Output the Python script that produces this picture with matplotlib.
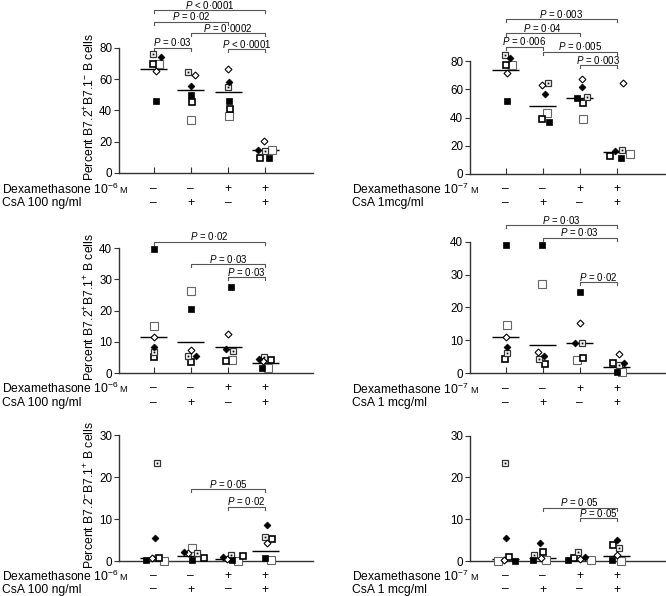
import matplotlib
matplotlib.use('Agg')
import matplotlib.pyplot as plt
import matplotlib.transforms as mtransforms
import numpy as np

plt.rcParams['font.family'] = ['Liberation Sans', 'DejaVu Sans']
plt.rcParams['mathtext.fontset'] = 'custom'
plt.rcParams['mathtext.rm'] = 'Liberation Sans'
plt.rcParams['mathtext.it'] = 'Liberation Sans:italic'
plt.rcParams['mathtext.default'] = 'regular'

W, H = 666, 596

# ---------------- data ----------------
dex_signs = ['–', '–', '+', '+']
csa_signs = ['–', '+', '–', '+']

# Panel A: B7.2+B7.1- , Dex 1e-6 M, CsA 100 ng/ml
a_fsq = [46, 50, 46, 9.5]
a_osq = [70, 34, 36.5, 15]
a_ssq = [70, 45.5, 41, 9.5]
a_dsq = [76, 64.5, 55, 14]
a_odia = [65, 62.5, 66.5, 20.7]
a_fdia = [74.5, 55.5, 58.5, 15]
a_mean = [66.8, 53.1, 51.8, 14.7]
a_p = [(0, 3, 104.0, '< 0·0001'), (0, 2, 96.8, '= 0·02'),
       (1, 3, 89.4, '= 0·0002'), (0, 1, 80.3, '= 0·03'),
       (2, 3, 79.4, '< 0·0001')]

# Panel B: B7.2+B7.1- , Dex 1e-7 M, CsA 1 mcg/ml
b_fsq = [51.7, 37, 54, 11.1]
b_osq = [77.2, 43, 39, 13.9]
b_ssq = [77.2, 38.9, 50.5, 12.7]
b_dsq = [84.2, 64.2, 54.3, 17]
b_odia = [71.3, 63, 67, 64.6]
b_fdia = [81.9, 56.4, 61.4, 16.3]
b_mean = [73.6, 48.1, 54, 15.8]
b_p = [(0, 3, 109.5, '= 0·003'), (0, 2, 99.6, '= 0·04'),
       (0, 1, 90.1, '= 0·006'), (1, 3, 86.6, '= 0·005'),
       (2, 3, 77.2, '= 0·003')]

# Panel C: B7.2+B7.1+
c_fsq = [39.7, 20.5, 27.6, 1.7]
c_osq = [15, 26.3, 4.2, 1.7]
c_ssq = [5, 3.6, 3.9, 4.2]
c_dsq = [6.6, 5.6, 7, 5.2]
c_odia = [11.4, 7.4, 12.4, 3.8]
c_fdia = [8.4, 5.6, 7.8, 4.5]
c_mean = [11.6, 9.8, 8.3, 3.1]
c_p = [(0, 3, 42.0, '= 0·02'), (1, 3, 34.8, '= 0·03'),
       (2, 3, 30.6, '= 0·03')]

# Panel D
d_fsq = [39.1, 39.1, 24.8, 0.5]
d_osq = [14.7, 27.2, 4.1, 0.3]
d_ssq = [4.3, 2.8, 4.7, 3.2]
d_dsq = [6.2, 4.2, 9.1, 2.4]
d_odia = [11.1, 6.5, 15.2, 5.8]
d_fdia = [8.0, 5.3, 9.1, 3.2]
d_mean = [10.9, 8.75, 9.25, 2.0]
d_p = [(0, 3, 45.1, '= 0·03'), (1, 3, 41.2, '= 0·03'),
       (2, 3, 27.7, '= 0·02')]

# Panel E: B7.2-B7.1+
e_fsq = [0.2, 0.2, 0.2, 0.8]
e_osq = [0, 3.0, 0, 0.2]
e_ssq = [0.8, 0.8, 1.2, 5.2]
e_dsq = [23.3, 1.8, 1.4, 5.6]
e_odia = [0.6, 1.8, 0.5, 4.2]
e_fdia = [5.4, 2.2, 0.9, 8.6]
e_mean = [0.8, 1.3, 0.4, 2.5]
e_p = [(1, 3, 17.1, '= 0·05'), (2, 3, 12.9, '= 0·02')]

# Panel F
f_fsq = [0, 0.2, 0.2, 0.2]
f_osq = [0, 0.2, 0.2, 0]
f_ssq = [0.9, 2.2, 0.8, 3.8]
f_dsq = [23.5, 1.4, 2.2, 3.0]
f_odia = [0.2, 0.6, 0.4, 1.4]
f_fdia = [5.6, 4.2, 0.9, 5.0]
f_mean = [0.4, 0.6, 0.5, 1.3]
f_p = [(1, 3, 12.8, '= 0·05'), (2, 3, 10.2, '= 0·05')]

# ---------------- layout / style (pixels) ----------------
# horizontal jitter of each marker type, pixels, per group
jit = {
    'A': dict(fsq=[2, 0, 1, 4], osq=[5, 0, 1, 7], ssq=[-1, 1, 2, -5], dsq=[-1, -3, 0, 0], odia=[2, 4, 0, -1], fdia=[7, 0, 1, -7]),
    'B': dict(fsq=[1, 6.5, -3, 4], osq=[6, 4, 3, 13], ssq=[0, -1, 3, -7], dsq=[-1, 5, 7, 5], odia=[1, -1, 2, 6], fdia=[4, 2, 2, -2]),
    'C': dict(fsq=[0, 0, 3, -3], osq=[0, 0, 4, 3], ssq=[0, 0, -2, 6], dsq=[0, -3, 5, -1], odia=[0, 0, 0, -2], fdia=[0, 5, -2, -6]),
    'D': dict(fsq=[0, -1, 0, 0], osq=[1, -1, -3, 5], ssq=[-1, 2, 3, -4], dsq=[1, -4, 2, 2], odia=[0, -5, 0, 2], fdia=[1, 1, -5, 7]),
    'E': dict(fsq=[-8, 1, 4, 0], osq=[10, 1, 10, 6], ssq=[5, 13, 15, 7], dsq=[3, 6, 3, 0], odia=[-2, -3, -1, 2], fdia=[1, -7, -5, 2]),
    'F': dict(fsq=[9, -10, -12, -5], osq=[-8, 3, 11, 4], ssq=[3, 0, -6, -4], dsq=[-1, -9, -2, 2], odia=[-2, -2, 0, 0], fdia=[0, -3, 5, 0]),
}

panels = [
    ('A', dict(fsq=a_fsq, osq=a_osq, ssq=a_ssq, dsq=a_dsq, odia=a_odia, fdia=a_fdia), a_mean, a_p,
     119, 313, 173, 48, 80, [0, 20, 40, 60, 80], 153.5, 37.3,
     'Percent B7.2$^{+}$B7.1$^{-}$ B cells', '10$^{-6}$', 'CsA 100 ng/ml', (189, 203.5)),
    ('B', dict(fsq=b_fsq, osq=b_osq, ssq=b_ssq, dsq=b_dsq, odia=b_odia, fdia=b_fdia), b_mean, b_p,
     470, 666, 174, 61, 80, [0, 20, 40, 60, 80], 505.5, 37.1,
     None, '10$^{-7}$', 'CsA 1mcg/ml', (189, 203.5)),
    ('C', dict(fsq=c_fsq, osq=c_osq, ssq=c_ssq, dsq=c_dsq, odia=c_odia, fdia=c_fdia), c_mean, c_p,
     119, 313, 373, 248, 40, [0, 10, 20, 30, 40], 153.5, 37.3,
     'Percent B7.2$^{+}$B7.1$^{+}$ B cells', '10$^{-6}$', 'CsA 100 ng/ml', (388.5, 403.3)),
    ('D', dict(fsq=d_fsq, osq=d_osq, ssq=d_ssq, dsq=d_dsq, odia=d_odia, fdia=d_fdia), d_mean, d_p,
     470, 666, 373.3, 241.7, 40, [0, 10, 20, 30, 40], 505.5, 37.1,
     None, '10$^{-7}$', 'CsA 1 mcg/ml', (389, 403.3)),
    ('E', dict(fsq=e_fsq, osq=e_osq, ssq=e_ssq, dsq=e_dsq, odia=e_odia, fdia=e_fdia), e_mean, e_p,
     119, 313, 561, 435, 30, [0, 10, 20, 30], 153.5, 37.3,
     'Percent B7.2$^{-}$B7.1$^{+}$ B cells', '10$^{-6}$', 'CsA 100 ng/ml', (576, 589.5)),
    ('F', dict(fsq=f_fsq, osq=f_osq, ssq=f_ssq, dsq=f_dsq, odia=f_odia, fdia=f_fdia), f_mean, f_p,
     470, 666, 561, 435.7, 30, [0, 10, 20, 30], 505.5, 37.1,
     None, '10$^{-7}$', 'CsA 1 mcg/ml', (576, 589.5)),
]

styles = {
    'osq': dict(marker='s', ms=5.4, mfc='white', mec='#666666', mew=0.8),
    'fsq': dict(marker='s', ms=5.0, mfc='black', mec='black', mew=0.5),
    'ssq': dict(marker='s', ms=3.8, mfc='white', mec='black', mew=1.2),
    'dsq': dict(marker='s', ms=4.8, mfc='white', mec='#333333', mew=0.9),
    'odia': dict(marker='D', ms=3.5, mfc='white', mec='black', mew=0.8),
    'fdia': dict(marker='D', ms=3.5, mfc='black', mec='black', mew=0.5),
}

fig = plt.figure(figsize=(W / 100, H / 100), dpi=100)
fig.patch.set_facecolor('white')

ROW_FS = 8.7
for (key, data, means, pvals, left, right, y0px, ytpx, ytv, yticks, t0, sp,
     ylabel, dexlab, csalab, rowy) in panels:
    ax = fig.add_axes([left / W, 1 - y0px / H, (right - left) / W, (y0px - ytpx) / H])
    ax.set_xlim((left - t0) / sp, (right - t0) / sp)
    ax.set_ylim(0, ytv)
    for s in ['top', 'right']:
        ax.spines[s].set_visible(False)
    for s in ['left', 'bottom']:
        ax.spines[s].set_color('#333333')
        ax.spines[s].set_linewidth(1.0)
    ax.set_yticks(yticks)
    ax.set_yticklabels([str(t) for t in yticks], fontsize=8.4)
    ax.tick_params(axis='y', direction='out', length=3.5, width=0.8, pad=1.5, colors='#333333',
                   labelcolor='black')
    groups = np.arange(4)
    ax.set_xticks(groups)
    ax.set_xticklabels([])
    ax.tick_params(axis='x', direction='in', length=4, width=0.8, colors='#333333')
    ax.patch.set_alpha(0)

    # markers
    for mk in ['osq', 'ssq', 'dsq', 'fsq', 'odia', 'fdia']:
        xs = groups + np.array(jit[key][mk]) / sp
        ax.plot(xs, data[mk], ls='none', clip_on=False, zorder=4, **styles[mk])
        if mk == 'dsq':
            ax.plot(xs, data[mk], ls='none', marker='s', ms=1.3, mfc='black', mec='black',
                    mew=0, clip_on=False, zorder=5)
    # mean lines
    ax.hlines(means, groups - 0.36, groups + 0.36, colors='black', lw=1.0, zorder=3, clip_on=False)

    # significance brackets
    tick_h = 3 * ytv / (y0px - ytpx)  # 3 px in data units
    txt_off = mtransforms.offset_copy(ax.transData, fig=fig, x=0, y=1.0, units='points')
    for (i, j, yv, lab) in pvals:
        ax.plot([i, i, j, j], [yv - tick_h, yv, yv, yv - tick_h], color='#555555', lw=0.8,
                clip_on=False)
        ax.text((i + j) / 2, yv, r'$\mathit{P}$ ' + lab, ha='center', va='baseline', fontsize=7.0,
                transform=txt_off, clip_on=False)

    if ylabel:
        fig.text(90 / W, 1 - ((ytpx + y0px) / 2 - 3) / H, ylabel, rotation=90, ha='center',
                 va='center', fontsize=8.8)

    # treatment rows
    lx = 2 if left < 333 else 352
    dy, cy = rowy
    blend_d = mtransforms.blended_transform_factory(ax.transData, fig.transFigure)
    fig.text(lx / W, 1 - dy / H, 'Dexamethasone ' + dexlab, ha='left', va='center', fontsize=ROW_FS)
    mx = 119 if left < 333 else 470
    fig.text(mx / W, 1 - (dy + 1.5) / H, 'M', ha='left', va='center', fontsize=6.6)
    fig.text(lx / W, 1 - cy / H, csalab, ha='left', va='center', fontsize=ROW_FS)
    for g in groups:
        ax.text(g, 1 - dy / H, dex_signs[g], transform=blend_d, ha='center', va='center',
                fontsize=ROW_FS)
        ax.text(g, 1 - cy / H, csa_signs[g], transform=blend_d, ha='center', va='center',
                fontsize=ROW_FS)

fig.savefig('out.png', dpi=100, facecolor='white')
